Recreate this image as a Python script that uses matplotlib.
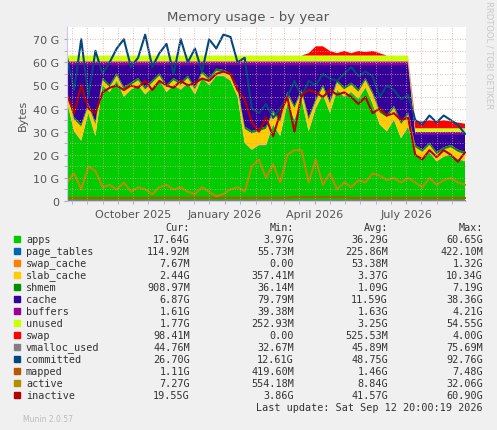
import matplotlib
matplotlib.use('Agg')
import matplotlib.pyplot as plt
import matplotlib.dates as mdates
import pandas as pd

# weekly samples (GB)
apps = [43, 30, 26, 38, 28, 50, 47, 52, 45, 48, 50, 46, 49, 52, 47, 50, 48, 51, 46, 53,
        50, 54, 54, 52, 45, 25, 22, 24, 24, 33, 28, 42, 35, 44, 30, 40, 46, 38, 48, 45,
        47, 44, 49, 42, 33, 30, 35, 27, 32, 20, 18, 21, 17, 19, 20, 18, 17]
page_tables = [0.2] * 57
swap_cache = [0.05] * 57
slab_cache = [3, 5, 6, 3, 5, 2, 2, 2, 3, 2, 2, 2, 2, 2, 2, 2, 2, 2, 2, 2,
              2, 2, 1.5, 2, 3, 6, 7, 6, 7, 5, 6, 4, 5, 3, 5, 3, 3, 4, 3, 3,
              3, 3, 3, 4, 5, 6, 5, 6, 5, 3, 3, 3, 3, 3, 3, 3, 3]
shmem = [1.0] * 57
cache = [11.6, 22.6, 25.6, 16.6, 24.6, 5.6, 8.6, 3.6, 9.6, 7.6, 5.6, 9.6, 6.6, 3.6, 8.6, 5.6, 7.6, 4.6, 9.6, 2.6,
         5.6, 1.6, 2.1, 3.6, 9.6, 26.6, 28.6, 27.6, 26.6, 19.6, 23.6, 11.6, 17.6, 10.6, 22.6, 14.6, 8.6, 15.6, 6.6, 9.6,
         7.6, 10.6, 5.6, 11.6, 19.6, 21.6, 17.6, 24.6, 20.6, 4.7, 6.7, 3.7, 7.7, 5.7, 4.7, 6.7, 7.7]
buffers = [1.6] * 49 + [1.0] * 8
unused = [2.5] * 49 + [1.5] * 8
swap = [0, 0, 0, 0, 0, 0, 0, 0, 0, 0, 0, 0, 0, 0, 0, 0, 0, 0, 0, 0,
        0, 0, 0, 0, 0, 0, 0, 0, 0, 0, 0, 0, 0, 0, 1, 4, 4, 2, 1, 2,
        1, 2, 1.5, 2, 1, 0, 0, 0, 0, 3, 3, 3.5, 3, 3.5, 3, 2.5, 2]
vmalloc_used = [0.05] * 57
committed = [62, 48, 70, 45, 65, 55, 60, 66, 70, 58, 62, 72, 58, 64, 68, 55, 70, 60, 66, 56,
             70, 66, 72, 71, 60, 62, 40, 38, 42, 36, 40, 45, 52, 45, 52, 50, 55, 53, 52, 55,
             58, 54, 56, 54, 45, 50, 48, 44, 46, 35, 33, 37, 34, 37, 35, 33, 29]
mapped = [1.3] * 12 + [1.4] * 20 + [1.6] * 8 + [1.3] * 17
active = [8, 12, 5, 15, 13, 6, 7, 5, 8, 4, 6, 5, 3, 6, 7, 5, 6, 4, 3, 6,
          4, 2, 3, 5, 6, 4, 15, 18, 10, 16, 8, 20, 22, 22, 8, 18, 7, 12, 5, 8,
          6, 9, 8, 12, 11, 9, 10, 8, 10, 8, 6, 10, 7, 9, 10, 8, 7]
inactive = [46, 38, 50, 40, 38, 47, 49, 50, 48, 50, 49, 52, 48, 52, 50, 49, 52, 50, 51, 53,
            52, 55, 56, 55, 48, 44, 34, 30, 36, 28, 38, 45, 30, 46, 48, 47, 45, 48, 46, 47,
            45, 42, 45, 38, 40, 37, 38, 35, 36, 20, 18, 22, 19, 22, 20, 17, 21]

names = ['apps', 'page_tables', 'swap_cache', 'slab_cache', 'shmem', 'cache', 'buffers',
         'unused', 'swap', 'vmalloc_used', 'committed', 'mapped', 'active', 'inactive']
colors = ['#00CC00', '#0066B3', '#FF8000', '#FFCC00', '#008F00', '#330099', '#990099',
          '#CCFF00', '#FF0000', '#808080', '#00487D', '#B35A00', '#B38F00', '#B30000']
cur = ['17.64G', '114.92M', '7.67M', '2.44G', '908.97M', '6.87G', '1.61G', '1.77G',
       '98.41M', '44.76M', '26.70G', '1.11G', '7.27G', '19.55G']
mins = ['3.97G', '55.73M', '0.00', '357.41M', '36.14M', '79.79M', '39.38M', '252.93M',
        '0.00', '32.67M', '12.61G', '419.60M', '554.18M', '3.86G']
avgs = ['36.29G', '225.86M', '53.38M', '3.37G', '1.09G', '11.59G', '1.63G', '3.25G',
        '525.53M', '45.89M', '48.75G', '1.46G', '8.84G', '41.57G']
maxs = ['60.65G', '422.10M', '1.32G', '10.34G', '7.19G', '38.36G', '4.21G', '54.55G',
        '4.00G', '75.69M', '92.76G', '7.48G', '32.06G', '60.90G']

dates = pd.date_range('2025-07-27', '2026-08-29', periods=len(apps))

W, H = 497, 431
fig = plt.figure(figsize=(W / 100, H / 100), dpi=100, facecolor='#F0F0F0')
ax = fig.add_axes([67 / W, 1 - 202 / H, 399 / W, 174 / H])
ax.set_facecolor('white')

stack = [apps, page_tables, swap_cache, slab_cache, shmem, cache, buffers, unused, swap]
ax.stackplot(dates, *stack, colors=colors[:9], linewidth=0)
for series, c in zip([vmalloc_used, committed, mapped, active, inactive], colors[9:]):
    ax.plot(dates, series, color=c, linewidth=1.5)

ax.set_xlim(pd.Timestamp('2025-07-27'), pd.Timestamp('2026-08-30'))
ax.set_ylim(0, 75.3)
ax.set_yticks(range(0, 71, 10))
ax.set_yticklabels(['0'] + [f'{v} G' for v in range(10, 71, 10)])
ax.set_yticks(range(5, 71, 10), minor=True)
ax.xaxis.set_major_locator(mdates.MonthLocator(bymonth=[1, 4, 7, 10]))
ax.xaxis.set_major_formatter(mdates.DateFormatter('%B %Y'))
ax.xaxis.set_minor_locator(mdates.DayLocator(bymonthday=[1, 16]))
ax.grid(which='both', color='#E8A0A0', linestyle=(0, (1, 2)), linewidth=0.6)
ax.set_axisbelow(False)
ax.tick_params(which='both', length=2, colors='#AAAAAA', labelcolor='#555555', labelsize=8)
for s in ['top', 'right']:
    ax.spines[s].set_visible(False)
for s in ['left', 'bottom']:
    ax.spines[s].set_color('#C8C8F0')
ax.set_ylabel('Bytes', color='#555555', fontsize=8)

fig.text(0.5, 1 - 17 / H, 'Memory usage - by year', ha='center', va='center',
         fontsize=9.5, color='#555555')
fig.text(489 / W, 1 - 55 / H, 'RRDTOOL / TOBI OETIKER', rotation=270, ha='center',
         va='center', fontsize=6, color='#C8C8C8')

mono = dict(family='DejaVu Sans Mono', fontsize=7.3, color='#333333', va='center')
y0 = 228
for x, h in zip([190, 294, 388, 483], ['Cur:', 'Min:', 'Avg:', 'Max:']):
    fig.text(x / W, 1 - y0 / H, h, ha='right', **mono)
for i, name in enumerate(names):
    y = 1 - (y0 + 12 * (i + 1)) / H
    fig.patches.append(plt.Rectangle((14 / W, y - 3 / H), 6 / W, 6 / H,
                                     transform=fig.transFigure, color=colors[i]))
    fig.text(26 / W, y, name, ha='left', **mono)
    for x, v in zip([190, 294, 388, 483], [cur[i], mins[i], avgs[i], maxs[i]]):
        fig.text(x / W, y, v, ha='right', **mono)
fig.text(483 / W, 1 - 408 / H, 'Last update: Sat Sep 12 20:00:19 2026', ha='right', **mono)
fig.text(23 / W, 1 - 420 / H, 'Munin 2.0.57', ha='left', va='center', fontsize=5.5,
         color='#BBBBBB')

fig.savefig('out.png', dpi=100, facecolor=fig.get_facecolor())
